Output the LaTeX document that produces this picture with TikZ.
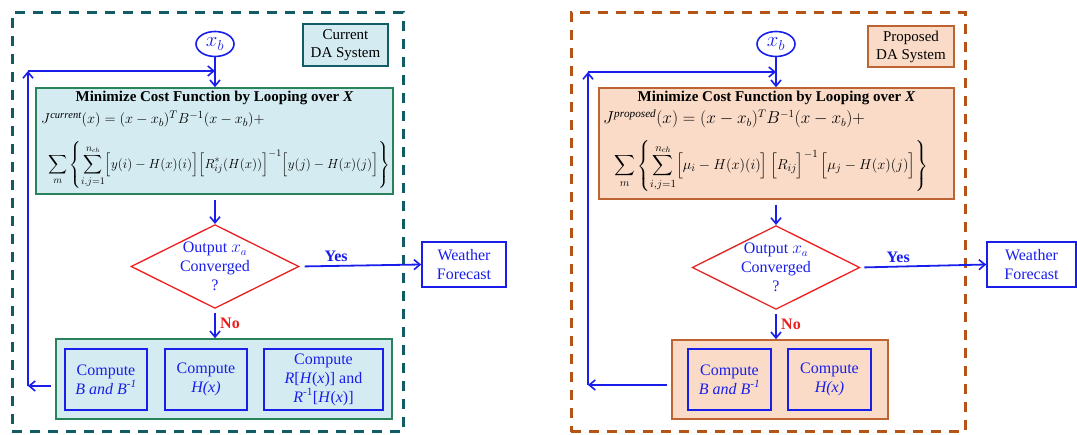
\documentclass[tikz,border=0pt]{standalone}
\usepackage{amsmath}
\usepackage{graphicx}
\usepackage{fontspec}
\setmainfont{Liberation Serif}
\usetikzlibrary{arrows.meta,positioning,calc,shapes.geometric}
\definecolor{dablue}{RGB}{25,30,235}
\definecolor{tealdash}{RGB}{18,92,102}
\definecolor{rustdash}{RGB}{180,84,22}
\definecolor{curfill}{RGB}{212,236,241}
\definecolor{curline}{RGB}{40,130,90}
\definecolor{propfill}{RGB}{250,219,200}
\definecolor{propline}{RGB}{190,100,50}
\definecolor{decred}{RGB}{235,30,30}

\begin{document}
\begin{tikzpicture}[
  x=1pt,y=-1pt,
  arr/.style={-{Straight Barb[length=6pt,width=10pt,line width=1.6pt]},draw=dablue,line width=1.8pt},
  panel/.style={draw=#1,dash pattern=on 10pt off 8pt,line width=3pt,inner sep=0pt},
  tagbox/.style={draw=#1,line width=1.5pt,align=center,inner sep=0pt,
    font=\fontsize{15}{18}\selectfont},
  costbox/.style={draw=#1,line width=1.5pt,inner sep=0pt},
  xbnode/.style={ellipse,draw=dablue,line width=1.6pt,inner sep=0pt,text=dablue,
    minimum width=38pt,minimum height=25pt,font=\fontsize{20}{20}\selectfont},
  decision/.style={diamond,draw=decred,line width=1.3pt,inner sep=0pt,aspect=2,
    minimum width=168pt,minimum height=83pt,align=center,text=dablue,
    font=\fontsize{16}{19}\selectfont},
  bluebox/.style={draw=dablue,line width=1.6pt,inner sep=0pt,align=center,text=dablue,
    font=\fontsize{16}{19}\selectfont},
  titletext/.style={font=\fontsize{15}{18}\selectfont\bfseries,inner sep=0pt},
  formula/.style={font=\fontsize{15}{18}\selectfont,inner sep=0pt,anchor=west},
  yeslabel/.style={text=dablue,font=\fontsize{16}{19}\selectfont\bfseries},
  nolabel/.style={text=decred,font=\fontsize{16}{19}\selectfont\bfseries}
]
  \useasboundingbox (0,0) rectangle (1077,435);

  % ---- current DA system ----
  \node[panel=tealdash,minimum width=391pt,minimum height=419pt] (curPanel) at (207.5,222.5) {};
  \node[tagbox=tealdash,fill=curfill,minimum width=85pt,minimum height=42pt] (curTag) at (345.5,45) {Current\\DA System};
  \node[xbnode] (xbL) at (215,44) {$x_b$};
  \node[costbox=curline,fill=curfill,minimum width=357pt,minimum height=106pt] (costL) at (214.5,141) {};
  \node[titletext,anchor=north] at ($(costL.north)+(0,4)$) {Minimize Cost Function by Looping over \textit{X}};
  \node[formula] at (41,119) {$J^{\mathit{current}}(x)=(x-x_b)^T B^{-1}(x-x_b)+$};
  \node[formula] at (48,165) {\resizebox{342pt}{!}{$\displaystyle\sum_{m}\left\{\sum_{i,j=1}^{n_{ch}}\Bigl[y(i)-H(x)(i)\Bigr]\Bigl[R^{*}_{ij}(H(x))\Bigr]^{-1}\Bigl[y(j)-H(x)(j)\Bigr]\right\}$}};
  \node[decision] (decL) at (215,266.5) {Output $x_a$\\Converged\\?};
  \node[bluebox,minimum width=84pt,minimum height=45pt] (wfL) at (464,264.5) {Weather\\Forecast};
  \node[costbox=curline,fill=curfill,minimum width=336pt,minimum height=80pt] (lowL) at (224,379) {};
  \node[bluebox,minimum width=82pt,minimum height=61pt] (bL) at (106,379.5) {Compute\\\textit{B and B\textsuperscript{-1}}};
  \node[bluebox,minimum width=82pt,minimum height=61pt] (hL) at (206,379.5) {Compute\\\textit{H(x)}};
  \node[bluebox,minimum width=119pt,minimum height=61pt] (rL) at (323.5,379.5) {Compute\\\textit{R}[\textit{H}(\textit{x})] and\\\textit{R}\textsuperscript{-1}[\textit{H}(\textit{x})]};
  \coordinate (loopBL) at (28,386);
  \coordinate (loopTL) at (28,71);

  \draw[arr] (xbL) -- (xbL |- costL.north);
  \draw[arr,shorten <=5pt] (costL.south -| decL) -- (decL.north);
  \draw[arr,shorten <=5pt] (decL.east) -- node[yeslabel,above=0pt,pos=0.3]{Yes} (wfL.west);
  \draw[arr,shorten <=4pt] (decL.south) -- node[nolabel,right=1pt]{No} (decL.south |- lowL.north);
  \draw[arr,shorten <=4pt] (lowL.west |- loopBL) -- (loopBL);
  \draw[arr] (loopBL) -- (loopTL);
  \draw[arr] (loopTL) -- (loopTL -| xbL);

  % ---- proposed DA system ----
  \node[panel=rustdash,minimum width=394pt,minimum height=419pt] (propPanel) at (768,222.5) {};
  \node[tagbox=propline,fill=propfill,minimum width=86pt,minimum height=41pt] (propTag) at (911,46.5) {Proposed\\DA System};
  \node[xbnode] (xbR) at (776,44) {$x_b$};
  \node[costbox=propline,fill=propfill,minimum width=355pt,minimum height=111pt] (costR) at (776.5,143.5) {};
  \node[titletext,anchor=north] at ($(costR.north)+(0,4)$) {Minimize Cost Function by Looping over \textit{X}};
  \node[formula,font=\fontsize{16}{19}\selectfont] at (603,119) {$J^{\mathit{proposed}}(x)=(x-x_b)^T B^{-1}(x-x_b)+$};
  \node[formula,font=\fontsize{15.5}{18}\selectfont] at (614,166) {$\displaystyle\sum_{m}\left\{\sum_{i,j=1}^{n_{ch}}\Bigl[\mu_i-H(x)(i)\Bigr]\,\Bigl[R_{ij}\Bigr]^{-1}\,\Bigl[\mu_j-H(x)(j)\Bigr]\right\}$};
  \node[decision,minimum width=166pt] (decR) at (776,267.5) {Output $x_a$\\Converged\\?};
  \node[bluebox,minimum width=89pt,minimum height=45pt] (wfR) at (1031.5,264.5) {Weather\\Forecast};
  \node[costbox=propline,fill=propfill,minimum width=216pt,minimum height=79pt] (lowR) at (780,379.5) {};
  \node[bluebox,minimum width=83pt,minimum height=61pt] (bR) at (729.5,379.5) {Compute\\\textit{B and B\textsuperscript{-1}}};
  \node[bluebox,minimum width=83pt,minimum height=61pt] (hR) at (829.5,379.5) {Compute\\\textit{H(x)}};
  \coordinate (loopBR) at (588,385);
  \coordinate (loopTR) at (588,72);

  \draw[arr] (xbR) -- (xbR |- costR.north);
  \draw[arr,shorten <=5pt] (costR.south -| decR) -- (decR.north);
  \draw[arr,shorten <=4pt] (decR.east) -- node[yeslabel,above=0pt,pos=0.3]{Yes} (wfR.west);
  \draw[arr,shorten <=4pt] (decR.south) -- node[nolabel,right=1pt]{No} (decR.south |- lowR.north);
  \draw[arr,shorten <=4pt] (lowR.west |- loopBR) -- (loopBR);
  \draw[arr] (loopBR) -- (loopTR);
  \draw[arr] (loopTR) -- (loopTR -| xbR);
\end{tikzpicture}
\end{document}
